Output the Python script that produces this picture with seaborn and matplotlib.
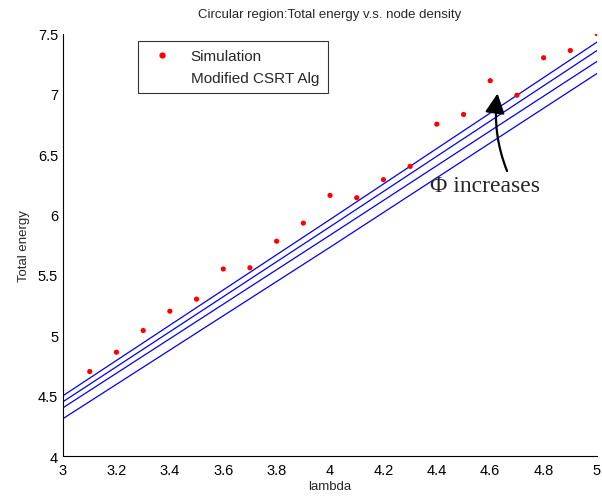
import matplotlib
matplotlib.use("Agg")
import matplotlib.pyplot as plt
import seaborn as sns
import pandas as pd
from matplotlib.lines import Line2D

# ---- data ----
lam = [3.1, 3.2, 3.3, 3.4, 3.5, 3.6, 3.7, 3.8, 3.9, 4.0,
       4.1, 4.2, 4.3, 4.4, 4.5, 4.6, 4.7, 4.8, 4.9, 5.0]
sim = [4.70, 4.86, 5.04, 5.20, 5.30, 5.55, 5.56, 5.78, 5.93, 6.16,
       6.14, 6.29, 6.40, 6.75, 6.83, 7.11, 6.99, 7.30, 7.36, 7.50]
line_x = [3.0, 4.0, 5.0]
phi_1 = [4.50, 5.96, 7.43]
phi_2 = [4.45, 5.90, 7.36]
phi_3 = [4.40, 5.83, 7.27]
phi_4 = [4.31, 5.73, 7.17]

xticks = [3, 3.2, 3.4, 3.6, 3.8, 4, 4.2, 4.4, 4.6, 4.8, 5]
xtick_labels = ["3", "3.2", "3.4", "3.6", "3.8", "4", "4.2", "4.4", "4.6", "4.8", "5"]
yticks = [4, 4.5, 5, 5.5, 6, 6.5, 7, 7.5]
ytick_labels = ["4", "4.5", "5", "5.5", "6", "6.5", "7", "7.5"]

sns.set_style("white")
plt.rcParams['font.family'] = ['Liberation Sans', 'DejaVu Sans']

lines_df = pd.DataFrame({
    "x": line_x * 4,
    "y": phi_1 + phi_2 + phi_3 + phi_4,
    "phi": ["p1"] * 3 + ["p2"] * 3 + ["p3"] * 3 + ["p4"] * 3,
})
sim_df = pd.DataFrame({"x": lam, "y": sim})

fig = plt.figure(figsize=(6.02, 5.02), dpi=100)
ax = fig.add_axes([0.1047, 0.0896, 0.887, 0.8414])

sns.lineplot(data=lines_df, x="x", y="y", hue="phi",
             palette=["#0000ff"] * 4, linewidth=0.9, legend=False, ax=ax)
sns.scatterplot(data=sim_df, x="x", y="y", color="#ff0000", s=14,
                edgecolor="none", legend=False, ax=ax, zorder=3)

ax.set_xlim(3, 5)
ax.set_ylim(4, 7.5)
ax.set_xticks(xticks)
ax.set_xticklabels(xtick_labels)
ax.set_yticks(yticks)
ax.set_yticklabels(ytick_labels)
ax.tick_params(direction="in", length=4, width=0.8, labelsize=10.5, colors="black")
ax.tick_params(axis="x", pad=5)
for s in ["top", "right"]:
    ax.spines[s].set_visible(False)
for s in ["left", "bottom"]:
    ax.spines[s].set_color("black")
    ax.spines[s].set_linewidth(0.8)

ax.set_xlabel("lambda", fontsize=9.5, labelpad=2)
ax.set_ylabel("Total energy", fontsize=9.5, labelpad=6)
ax.set_title("Circular region:Total energy v.s. node density", fontsize=9.5, pad=12)

handles = [
    Line2D([], [], marker="o", color="#ff0000", linestyle="none", markersize=3.5),
    Line2D([], [], color="none"),
]
leg = ax.legend(handles, ["Simulation", "Modified CSRT Alg"],
                loc="upper left", bbox_to_anchor=(0.1405, 0.983),
                fontsize=11, frameon=True, fancybox=False,
                edgecolor="black", handlelength=2.0, borderpad=0.55,
                labelspacing=0.5, handletextpad=0.9, borderaxespad=0)
leg.get_frame().set_linewidth(0.8)

ax.annotate("", xy=(4.629, 7.027), xytext=(4.667, 6.34),
            arrowprops=dict(arrowstyle="-|>,head_length=1.2,head_width=0.6",
                            color="black", lw=1.6,
                            connectionstyle="arc3,rad=-0.14"))
ax.text(4.373, 6.192, "\u03a6 increases", fontsize=17,
        family=["Liberation Serif", "DejaVu Serif"], va="baseline", ha="left")

fig.savefig("out.png", dpi=100)
